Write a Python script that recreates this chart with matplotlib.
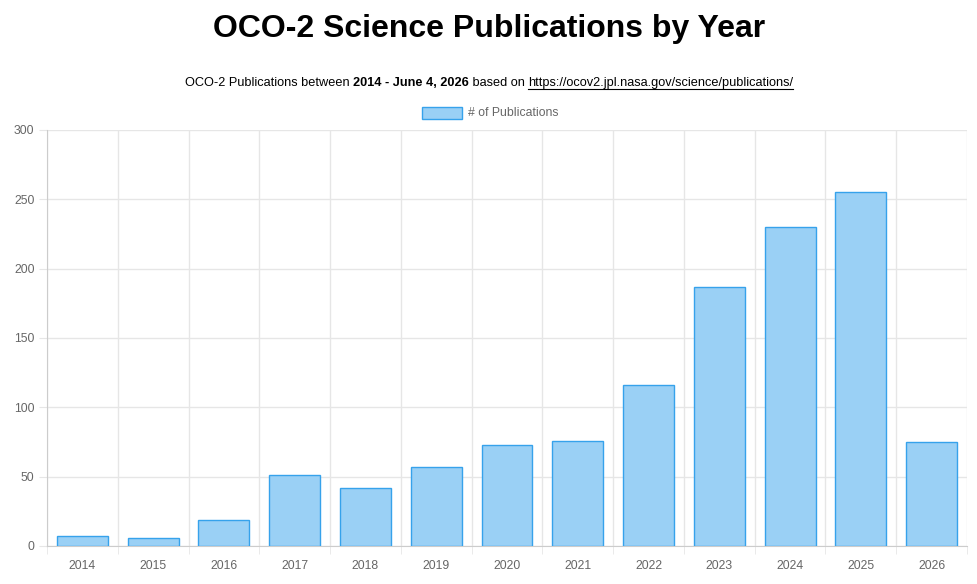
import matplotlib.pyplot as plt
from matplotlib.patches import Rectangle
import numpy as np

plt.rcParams['font.family'] = ['Liberation Sans', 'DejaVu Sans']

years = ['2014', '2015', '2016', '2017', '2018', '2019', '2020',
         '2021', '2022', '2023', '2024', '2025', '2026']
pubs = [7, 6, 19, 51, 42, 57, 73, 76, 116, 187, 230, 255, 75]

W, H = 978, 584
fig = plt.figure(figsize=(W / 100, H / 100), dpi=100)
ax = fig.add_axes([47 / W, 38 / H, 920 / W, 416 / H])

x = np.arange(len(years))
ax.bar(x, pubs, width=0.72, facecolor='#9ad0f5', edgecolor='#36a2eb',
       linewidth=1, zorder=3)

ax.set_xlim(-0.5, len(years) - 0.5)
ax.set_ylim(0, 300)
ax.set_yticks(range(0, 301, 50))
ax.set_xticks(x)
ax.set_xticklabels(years)
# grid lines between categories (chart.js style)
ax.set_xticks(np.arange(-0.5, len(years)), minor=True)
ax.grid(True, which='minor', axis='x', color='#e6e6e6', linewidth=1, zorder=0)
ax.grid(True, which='major', axis='y', color='#e6e6e6', linewidth=1, zorder=0)
ax.tick_params(axis='x', which='major', length=0, pad=10, labelsize=8.8, labelcolor='#666666')
ax.tick_params(axis='x', which='minor', length=6, color='#e6e6e6')
ax.tick_params(axis='y', length=6, color='#e6e6e6', pad=3, labelsize=8.8, labelcolor='#666666')
for s in ['top', 'right']:
    ax.spines[s].set_visible(False)
for s in ['left', 'bottom']:
    ax.spines[s].set_color('#cccccc')

# title
fig.text(0.5, 1 - 29.5 / H, 'OCO-2 Science Publications by Year', ha='center', va='center',
         fontsize=23, fontweight='bold', color='black')

# subtitle built from pieces (normal / bold / link)
pieces = [('OCO-2 Publications between ', 'normal', False),
          ('2014 - June 4, 2026', 'bold', False),
          (' based on ', 'normal', False),
          ('https://ocov2.jpl.nasa.gov/science/publications/', 'normal', True)]
fig.canvas.draw()
r = fig.canvas.get_renderer()
sub_y = 1 - 83 / H
objs = []
total = 0
for txt, wt, link in pieces:
    t = fig.text(0, sub_y, txt, fontsize=9.15, fontweight=wt, color='black', va='center')
    w = t.get_window_extent(r).width
    objs.append((t, w, link))
    total += w
cx = (W - total) / 2
for t, w, link in objs:
    t.set_x(cx / W)
    if link:
        fig.add_artist(plt.Line2D([cx / W, (cx + w) / W], [1 - 89 / H, 1 - 89 / H],
                                  color='black', linewidth=0.8, transform=fig.transFigure))
    cx += w

# legend
fig.add_artist(Rectangle((422 / W, 1 - 119 / H), 40 / W, 12 / H, transform=fig.transFigure,
                         facecolor='#9ad0f5', edgecolor='#36a2eb', linewidth=1))
fig.text(468 / W, 1 - 113 / H, '# of Publications', fontsize=8.8, color='#666666', va='center')

fig.savefig('out.png', dpi=100)
